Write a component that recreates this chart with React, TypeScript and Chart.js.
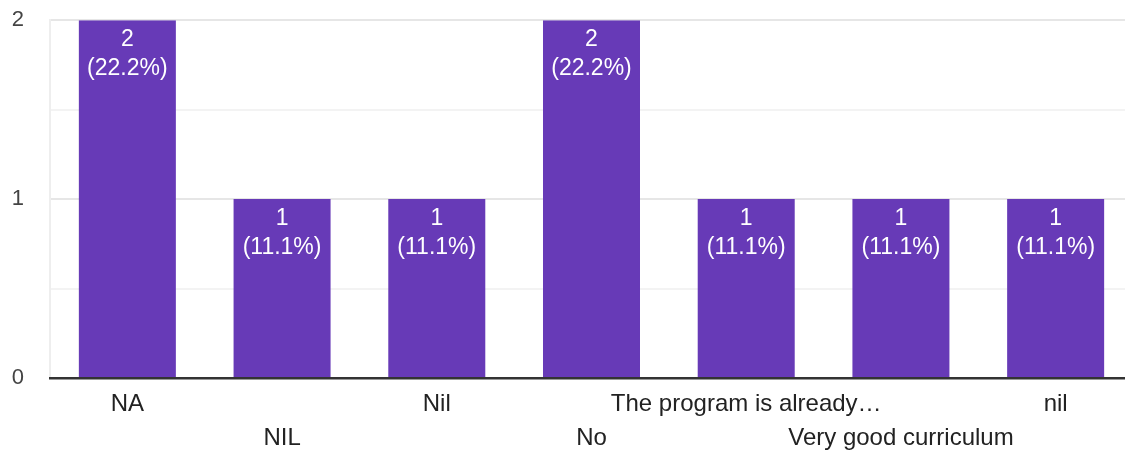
import React, { useEffect, useRef } from "react";
import { Chart, registerables } from "chart.js";

Chart.register(...registerables);

const categories: string[] = [
  "NA",
  "NIL",
  "Nil",
  "No",
  "The program is already…",
  "Very good curriculum",
  "nil",
];
const counts: number[] = [2, 1, 1, 2, 1, 1, 1];
const yTicks: number[] = [0, 1, 2];

const BAR_COLOR = "#673ab7";
const FONT = "'Liberation Sans', Arial, sans-serif";

const total = counts.reduce((a, b) => a + b, 0);

const barLabelPlugin = {
  id: "barLabels",
  afterDatasetsDraw(chart: any) {
    const ctx = chart.ctx;
    const meta = chart.getDatasetMeta(0);
    ctx.save();
    ctx.fillStyle = "#ffffff";
    ctx.font = `23px ${FONT}`;
    ctx.textAlign = "center";
    ctx.textBaseline = "alphabetic";
    meta.data.forEach((bar: any, i: number) => {
      const v = counts[i];
      const pct = ((v / total) * 100).toFixed(1);
      ctx.fillText(String(v), bar.x, bar.y + 26);
      ctx.fillText(`(${pct}%)`, bar.x, bar.y + 55);
    });
    ctx.restore();
  },
};

export default function App() {
  const canvasRef = useRef<HTMLCanvasElement | null>(null);

  useEffect(() => {
    if (!canvasRef.current) return;
    const chart = new Chart(canvasRef.current, {
      type: "bar",
      data: {
        labels: categories.map((c, i) => (i % 2 === 0 ? [c] : ["", c])),
        datasets: [
          {
            data: counts,
            backgroundColor: BAR_COLOR,
            categoryPercentage: 1,
            barPercentage: 0.627,
          },
        ],
      },
      options: {
        animation: false,
        responsive: true,
        maintainAspectRatio: false,
        layout: { padding: 0 },
        plugins: {
          legend: { display: false },
          tooltip: { enabled: false },
        },
        scales: {
          x: {
            afterFit: (scale: any) => {
              scale.height = 72;
            },
            grid: { display: false, drawTicks: false },
            border: { display: true, color: "#333333", width: 2.5, z: 1 },
            ticks: {
              autoSkip: false,
              maxRotation: 0,
              minRotation: 0,
              padding: 10,
              color: "#222222",
              font: { family: FONT, size: 24, lineHeight: 1.4 },
            },
          },
          y: {
            min: 0,
            max: 2,
            afterFit: (scale: any) => {
              scale.width = 50;
            },
            afterBuildTicks: (scale: any) => {
              const t: any[] = [];
              for (let v = 0; v <= 2; v += 0.5) t.push({ value: v });
              scale.ticks = t;
            },
            grid: {
              drawTicks: false,
              color: (c: any) => {
                const v = c.tick ? c.tick.value : 0;
                if (v === 0) return "rgba(0,0,0,0)";
                return yTicks.includes(v) ? "#e6e6e6" : "#f3f3f3";
              },
              lineWidth: 2,
            },
            border: { display: true, color: "#eeeeee", width: 2 },
            ticks: {
              padding: 26,
              color: "#444444",
              font: { family: FONT, size: 22 },
              callback: (v: any) => (yTicks.includes(Number(v)) ? String(v) : ""),
            },
          },
        },
      },
      plugins: [barLabelPlugin],
    });
    return () => chart.destroy();
  }, []);

  return (
    <div
      style={{
        position: "fixed",
        left: 0,
        top: -19,
        width: 1133,
        height: 469,
        background: "#ffffff",
      }}
    >
      <canvas ref={canvasRef} />
    </div>
  );
}
